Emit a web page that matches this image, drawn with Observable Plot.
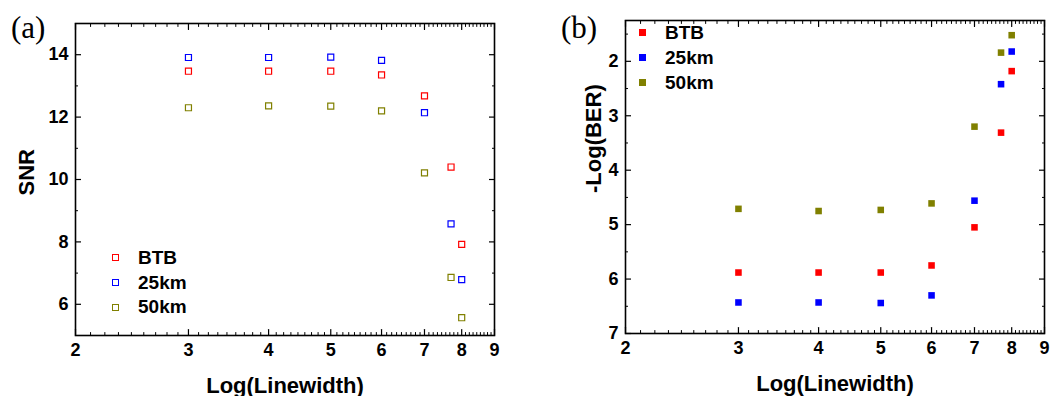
<!DOCTYPE html>
<html><head><meta charset="utf-8">
<script src="https://cdn.jsdelivr.net/npm/d3@7"></script>
<script src="https://cdn.jsdelivr.net/npm/@observablehq/plot@0.6"></script>
<style>
body{margin:0;background:#fff;}
#wrap{position:relative;width:1054px;height:396px;overflow:hidden;font-family:"Liberation Sans",Arial,sans-serif;color:#000;}
.panel{position:absolute;top:0;}
.plabel{position:absolute;font-family:"Liberation Serif","Times New Roman",serif;font-size:31px;line-height:31px;white-space:nowrap;}
.lg{position:absolute;font-weight:bold;font-size:19px;line-height:20px;white-space:nowrap;}
.sq{position:absolute;box-sizing:border-box;}
</style>
</head><body>
<div id="wrap"></div>
<script>
// ---- data ----
const linewidth = [3, 4, 5, 6, 7, 7.7, 8];
const seriesNames = ["BTB", "25km", "50km"];
const seriesColors = ["#ff0000", "#0000ff", "#808000"];
const snrBTB = [13.47, 13.47, 13.47, 13.35, 12.68, 10.40, 7.92];
const snr25km = [13.91, 13.91, 13.92, 13.82, 12.14, 8.58, 6.79];
const snr50km = [12.30, 12.36, 12.35, 12.20, 10.21, 6.86, 5.57];
const berBTB = [5.88, 5.88, 5.88, 5.75, 5.05, 3.31, 2.18];
const ber25km = [6.43, 6.43, 6.44, 6.30, 4.56, 2.42, 1.82];
const ber50km = [4.71, 4.75, 4.73, 4.61, 3.20, 1.84, 1.52];
const xTicks = [2, 3, 4, 5, 6, 7, 8, 9];
const snrTicks = [6, 8, 10, 12, 14];
const snrMinorTicks = [7, 9, 11, 13];
const berTicks = [2, 3, 4, 5, 6, 7];
const berMinorTicks = [1.5, 2.5, 3.5, 4.5, 5.5, 6.5];

const xMinorTicks = [];
for (let k = 2; k < 9; k++) for (let j = 1; j <= 8; j++) xMinorTicks.push(k + j / 9);

function tidy(arrs) {
  const out = [];
  arrs.forEach((arr, si) => arr.forEach((v, i) => out.push({x: linewidth[i], y: v, s: seriesNames[si]})));
  return out;
}
const dataA = tidy([snrBTB, snr25km, snr50km]);
const dataB = tidy([berBTB, ber25km, ber50km]);

const baseStyle = {fontFamily: "Liberation Sans, Arial, sans-serif", fontSize: "18px", fontWeight: "bold", color: "#000", background: "white", overflow: "visible"};

const lineShape = {draw(context, l) { context.moveTo(0, 0); context.lineTo(0, -l); }};

function xTickMarks(ticks, len, sw) {
  return [
    Plot.vector(ticks, {x: d => d, frameAnchor: "bottom", length: len, rotate: 0, anchor: "start", shape: lineShape, stroke: "#000", strokeWidth: sw}),
    Plot.vector(ticks, {x: d => d, frameAnchor: "top", length: len, rotate: 180, anchor: "start", shape: lineShape, stroke: "#000", strokeWidth: sw})
  ];
}

function axes(yTicks, yMinor) {
  return [
    ...xTickMarks(xTicks, 6, 1.2),
    ...xTickMarks(xMinorTicks, 3, 1),
    Plot.text(xTicks, {x: d => d, frameAnchor: "bottom", dy: 8, lineAnchor: "top", text: d => String(d), fontSize: 18, fontWeight: "bold"}),
    Plot.axisY(yTicks, {anchor: "left", tickSize: -6, tickPadding: 13, tickFormat: d => String(d), label: null, strokeWidth: 1.2}),
    Plot.axisY(yMinor, {anchor: "left", tickSize: -3, tickFormat: () => "", label: null}),
    Plot.axisY(yTicks, {anchor: "right", tickSize: -6, tickFormat: () => "", label: null, strokeWidth: 1.2}),
    Plot.axisY(yMinor, {anchor: "right", tickSize: -3, tickFormat: () => "", label: null}),
    Plot.frame({strokeWidth: 1.6})
  ];
}

const plotA = Plot.plot({
  width: 520, height: 396,
  marginLeft: 75, marginRight: 26, marginTop: 23, marginBottom: 61,
  style: baseStyle,
  x: {type: "log", domain: [2, 9], label: null, axis: null},
  y: {domain: [5, 15], label: null},
  color: {domain: seriesNames, range: seriesColors},
  marks: [
    ...axes(snrTicks, snrMinorTicks),
    Plot.dot(dataA, {x: "x", y: "y", stroke: "s", symbol: "square", r: 3.4, fill: "white", strokeWidth: 1.2}),
    Plot.text(["Log(Linewidth)"], {frameAnchor: "bottom", dy: 57, fontSize: 22, fontWeight: "bold"}),
    Plot.text(["SNR"], {frameAnchor: "left", dx: -49, dy: 16, rotate: -90, fontSize: 22, fontWeight: "bold"})
  ]
});

const plotB = Plot.plot({
  width: 524, height: 396,
  marginLeft: 95, marginRight: 10, marginTop: 20, marginBottom: 63,
  style: baseStyle,
  x: {type: "log", domain: [2, 9], label: null, axis: null},
  y: {domain: [7, 1.25], label: null},
  color: {domain: seriesNames, range: seriesColors},
  marks: [
    ...axes(berTicks, berMinorTicks),
    Plot.dot(dataB, {x: "x", y: "y", fill: "s", symbol: "square", r: 3.7}),
    Plot.text(["Log(Linewidth)"], {frameAnchor: "bottom", dy: 57, fontSize: 22, fontWeight: "bold"}),
    Plot.text(["-Log(BER)"], {frameAnchor: "left", dx: -32, dy: 16, rotate: -90, fontSize: 22, fontWeight: "bold"})
  ]
});

const wrap = document.getElementById("wrap");
function place(el, left) {
  const d = document.createElement("div");
  d.className = "panel";
  d.style.left = left + "px";
  d.appendChild(el);
  wrap.appendChild(d);
}
place(plotA, 0);
place(plotB, 530);

function addText(cls, text, left, top) {
  const d = document.createElement("div");
  d.className = cls;
  d.textContent = text;
  d.style.left = left + "px";
  d.style.top = top + "px";
  wrap.appendChild(d);
}
addText("plabel", "(a)", 11, 12);
addText("plabel", "(b)", 561, 12);

function legend(cx, cy0, gap, textLeft, filled) {
  seriesNames.forEach((name, i) => {
    const cy = cy0 + gap * i;
    const sq = document.createElement("div");
    sq.className = "sq";
    const s = 7;
    sq.style.width = s + "px"; sq.style.height = s + "px";
    sq.style.left = (cx - s / 2) + "px"; sq.style.top = (cy - s / 2) + "px";
    if (filled) sq.style.background = seriesColors[i];
    else { sq.style.border = "1.2px solid " + seriesColors[i]; sq.style.background = "#fff"; }
    wrap.appendChild(sq);
    addText("lg", name, textLeft, cy - 10);
  });
}
legend(115.3, 257.7, 24.8, 138, false);
legend(642.3, 32.7, 25, 665, true);
</script>
</body></html>
